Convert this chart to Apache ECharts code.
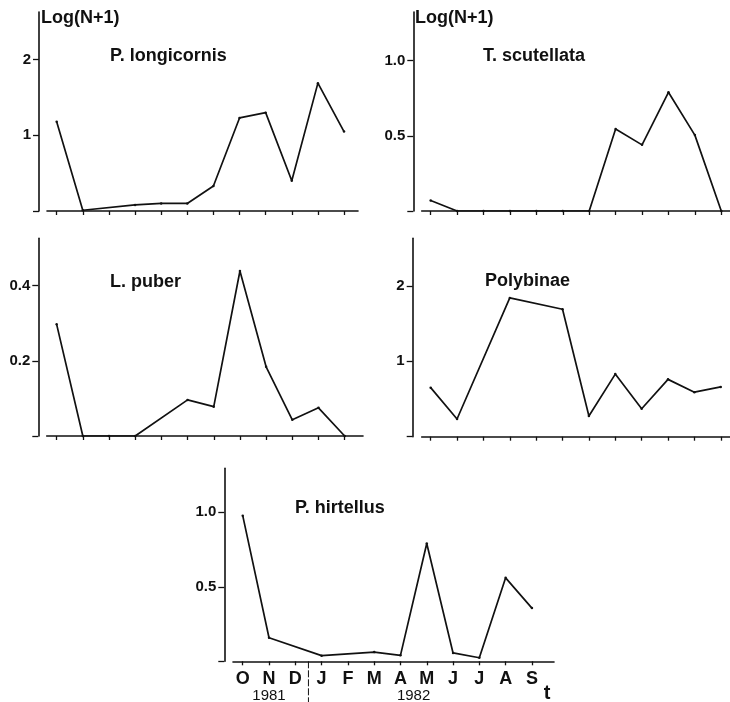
<!DOCTYPE html>
<html><head><meta charset="utf-8">
<script src="https://cdn.jsdelivr.net/npm/echarts@6/dist/echarts.min.js"></script>
<style>html,body{margin:0;padding:0;background:#fff}#c{width:730px;height:702px}</style>
</head><body><div id="c"></div>
<script>
// ---- data ----
const months = ['O','N','D','J','F','M','A','M','J','J','A','S'];
const monthIdx = [0,1,2,3,4,5,6,7,8,9,10,11];
const years = ['1981','1982'];
const yearPos = [1, 6.5];      // category positions of the year labels
const yearBreak = 2.5;         // between D and J
const names = ['P. longicornis','T. scutellata','L. puber','Polybinae','P. hirtellus'];
const longicornis = [1.18,0.01,null,0.08,0.10,0.10,0.33,1.23,1.30,0.40,1.69,1.05];
const scutellata  = [0.07,0,0,0,0,0,0,0.545,0.44,0.79,0.505,0];
const puber       = [0.297,0,0,0,null,0.096,0.078,0.439,0.184,0.043,0.075,0];
const polybinae   = [0.65,0.235,null,1.84,null,1.69,0.275,0.83,0.37,0.76,0.59,0.66];
const hirtellus   = [0.977,0.158,null,0.038,null,0.062,0.04,0.79,0.056,0.024,0.56,0.357];
const yTicks = [[0,1,2],[0,0.5,1.0],[0,0.2,0.4],[0,1,2],[0,0.5,1.0]];
const yTickLabels = [['1','2'],['0.5','1.0'],['0.2','0.4'],['1','2'],['0.5','1.0']];
const yMax = [2.63,1.324,0.526,2.63,1.295];

const FF = "'Liberation Sans Narrow','Liberation Sans',Arial,sans-serif";
const INK = '#111';

const grids = [
  {left:47, top:12, width:311, height:199},
  {left:421.7, top:12, width:308.3, height:199},
  {left:46.7, top:238.3, width:316.3, height:197.7},
  {left:421.7, top:238.3, width:308.3, height:198.4},
  {left:233, top:468.3, width:321, height:193}
];
const xRange = [[-0.37,11.535],[-0.34,11.33],[-0.38,11.7],[-0.34,11.35],[-0.37,11.84]];
const yOffset = [8,8.4,8.4,9,8.7];
const allData = [longicornis, scutellata, puber, polybinae, hirtellus];

const xAxes = grids.map((g,i)=>({
  type:'value', gridIndex:i, min:xRange[i][0], max:xRange[i][1],
  axisLine:{show:true, onZero:false, lineStyle:{color:INK, width:1.6}},
  axisTick:{show:true, customValues:monthIdx, length:4, lineStyle:{color:INK, width:1.3}},
  axisLabel:{show:i===4, customValues:monthIdx, formatter:v=>months[Math.round(v)],
    fontFamily:FF, fontWeight:'bold', fontSize:18, color:INK, margin:9},
  splitLine:{show:false}
}));
const yAxes = grids.map((g,i)=>({
  type:'value', gridIndex:i, min:0, max:yMax[i], offset:yOffset[i],
  axisLine:{show:true, onZero:false, lineStyle:{color:INK, width:1.6}},
  axisTick:{show:true, customValues:yTicks[i], length:6, lineStyle:{color:INK, width:1.3}},
  axisLabel:{show:true, customValues:yTicks[i].slice(1),
    formatter:(v)=>{const k=yTicks[i].indexOf(v); return k>0?yTickLabels[i][k-1]:'';},
    fontFamily:FF, fontWeight:'bold', fontSize:15, color:INK, margin:8},
  splitLine:{show:false}
}));
const series = allData.map((d,i)=>({
  type:'line', xAxisIndex:i, yAxisIndex:i, connectNulls:true,
  data:d.map((v,k)=>[k,v]), symbol:'circle', symbolSize:2.5, showSymbol:true,
  itemStyle:{color:INK}, lineStyle:{color:INK, width:1.7}, animation:false
}));
const titlePos = [[105,42],[478,42],[105,268],[480,267],[290,494]];
const titles = names.map((n,i)=>({text:n, left:titlePos[i][0], top:titlePos[i][1],
  textStyle:{fontFamily:FF, fontWeight:'bold', fontSize:18, color:INK}}));
titles.push({text:'Log(N+1)', left:36, top:4, textStyle:{fontFamily:FF, fontWeight:'bold', fontSize:18, color:INK}});
titles.push({text:'Log(N+1)', left:410, top:4, textStyle:{fontFamily:FF, fontWeight:'bold', fontSize:18, color:INK}});

const chart = echarts.init(document.getElementById('c'), null, {renderer:'canvas'});
chart.setOption({animation:false, backgroundColor:'#fff', title:titles, grid:grids, xAxis:xAxes, yAxis:yAxes, series:series});

const fnd = {xAxisIndex:4, yAxisIndex:4};
const base = chart.convertToPixel(fnd, [yearBreak, 0]);
const endPx = chart.convertToPixel(fnd, [xRange[4][1], 0]);
const gfx = [{type:'line', shape:{x1:base[0], y1:base[1], x2:base[0], y2:702},
  style:{stroke:INK, lineWidth:1, lineDash:[7,2]}}];
years.forEach((y,k)=>{
  const p = chart.convertToPixel(fnd, [yearPos[k], 0]);
  gfx.push({type:'text', x:p[0], y:p[1]+35, style:{text:y, fontFamily:FF, fontSize:15, fill:INK, align:'center', verticalAlign:'middle'}});
});
gfx.push({type:'text', x:endPx[0]-7, y:endPx[1]+32, style:{text:'t', fontFamily:FF, fontWeight:'bold', fontSize:20, fill:INK, align:'center', verticalAlign:'middle'}});
chart.setOption({graphic:gfx});
</script></body></html>
